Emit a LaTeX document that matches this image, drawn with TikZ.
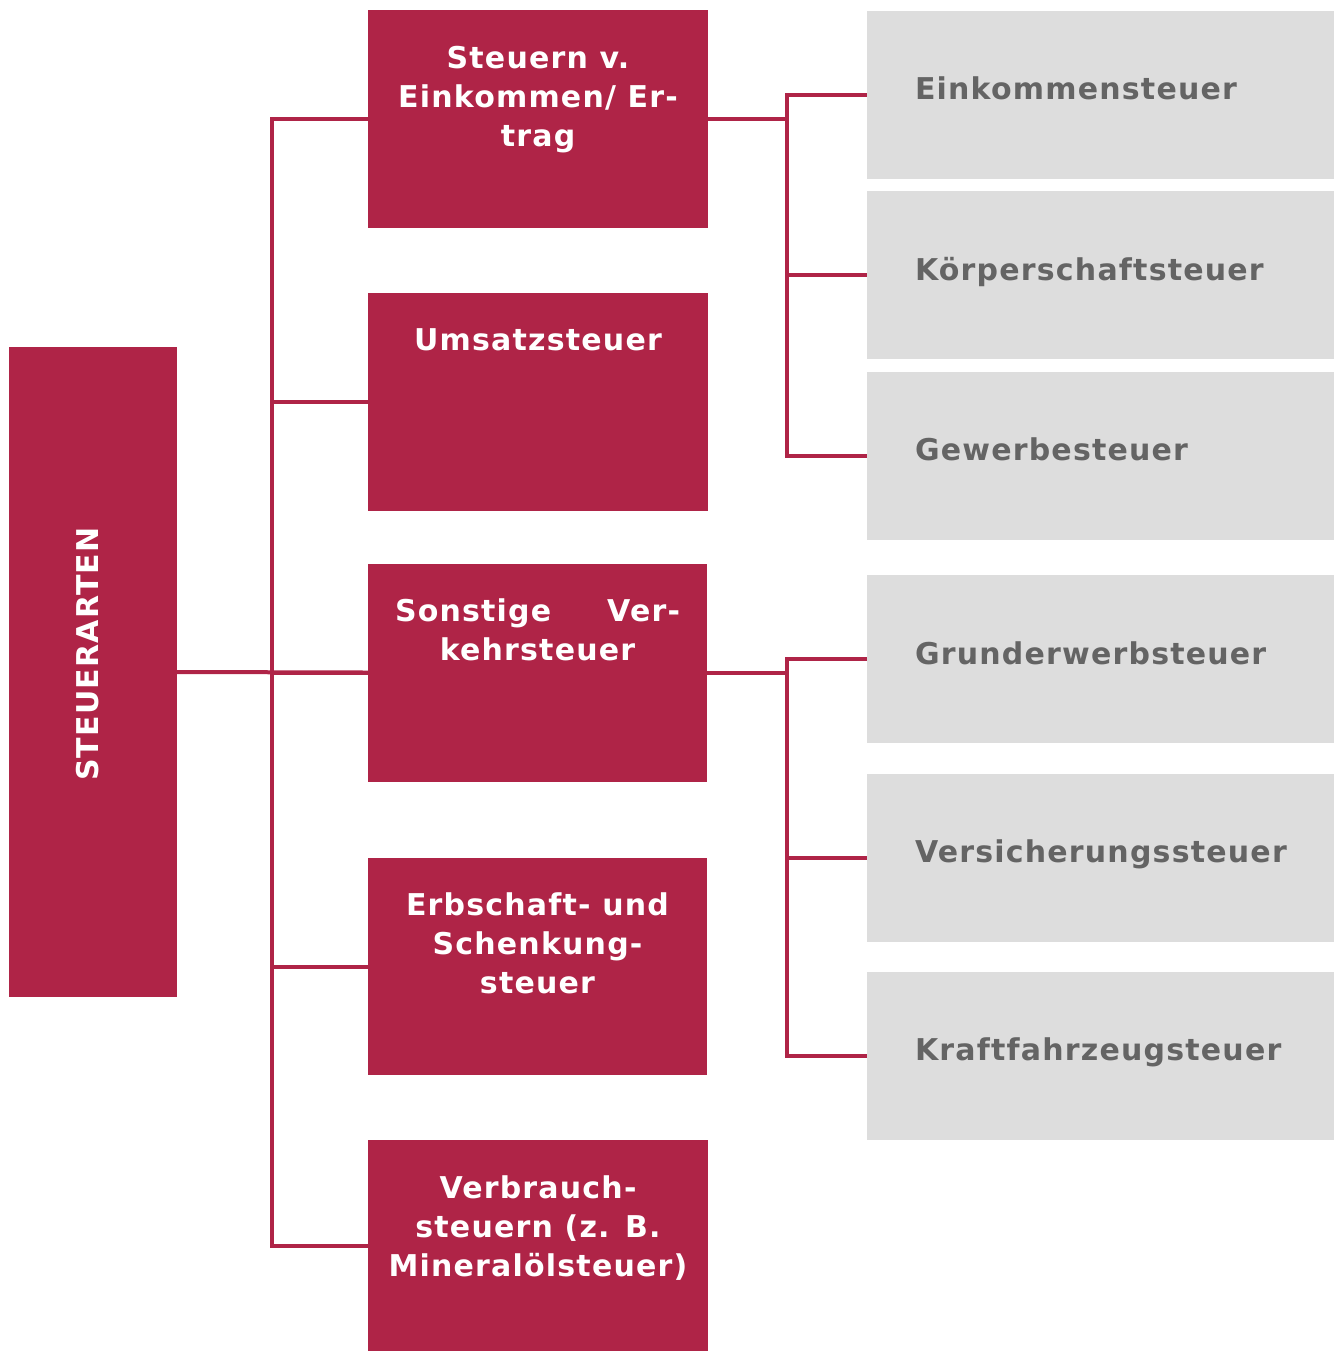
\documentclass[tikz,border=0pt]{standalone}
\usepackage{fontspec}
\newfontfamily\taxfont{DejaVu Sans}[LetterSpace=4]
\usetikzlibrary{backgrounds}
\definecolor{taxred}{HTML}{AF2447}
\definecolor{taxgrey}{HTML}{DDDDDD}
\definecolor{taxtext}{HTML}{646464}

\begin{document}
\begin{tikzpicture}[
    x=0.5pt, y=-0.5pt,
    redbox/.style={rectangle, fill=taxred, inner sep=0pt, minimum width=170pt, minimum height=109pt},
    greybox/.style={rectangle, fill=taxgrey, inner sep=0pt, minimum width=233.5pt, minimum height=84pt},
    boxtext/.style={font=\taxfont\bfseries\fontsize{15}{19.5}\selectfont, inner sep=0pt},
    redtext/.style={boxtext, text=white, align=center, anchor=north},
    greytext/.style={boxtext, text=taxtext, anchor=base west},
    conn/.style={draw=taxred, line width=2pt, line cap=rect}
  ]
  \useasboundingbox (0,0) rectangle (1340,1351);

  % root
  \node[redbox, minimum width=84pt, minimum height=325pt] (root) at (93,672) {};
  \node[boxtext, text=white, rotate=90] (rootlabel) at (87.5,654) {STEUERARTEN};

  % middle column
  \node[redbox] (m1) at (538,119) {};
  \node[redbox] (m2) at (538,402) {};
  \node[redbox, minimum width=169.5pt] (m3) at (537.5,672.5) {};
  \node[redbox, minimum width=169.5pt, minimum height=108.5pt] (m4) at (537.5,966.5) {};
  \node[redbox, minimum height=105.5pt] (m5) at (538,1245.5) {};

  \node[redtext] (m1t) at ([yshift=-17pt]m1.north) {\rule{0pt}{12pt}Steuern v.\\Einkommen/ Er-\\trag};
  \node[redtext] (m2t) at ([yshift=-16.5pt]m2.north) {\rule{0pt}{12pt}Umsatzsteuer};
  \node[redtext] (m3t) at ([yshift=-17pt]m3.north) {\rule{0pt}{12pt}\hbox to 142.5pt{Sonstige\hfill Ver-}\\kehrsteuer};
  \node[redtext] (m4t) at ([yshift=-16.5pt]m4.north) {\rule{0pt}{12pt}Erbschaft- und\\Schenkung-\\steuer};
  \node[redtext] (m5t) at ([yshift=-17pt]m5.north) {\rule{0pt}{12pt}Verbrauch-\\steuern (z. B.\\Mineralölsteuer)};

  % right column
  \node[greybox] (g1) at (1100.5,95) {};
  \node[greybox] (g2) at (1100.5,275) {};
  \node[greybox] (g3) at (1100.5,456) {};
  \node[greybox] (g4) at (1100.5,659) {};
  \node[greybox] (g5) at (1100.5,858) {};
  \node[greybox] (g6) at (1100.5,1056) {};

  \node[greytext] (g1t) at ([xshift=24pt, yshift=-44.5pt]g1.north west) {Einkommensteuer};
  \node[greytext] (g2t) at ([xshift=24pt, yshift=-45pt]g2.north west) {Körperschaftsteuer};
  \node[greytext] (g3t) at ([xshift=24pt, yshift=-44.5pt]g3.north west) {Gewerbesteuer};
  \node[greytext] (g4t) at ([xshift=24pt, yshift=-45pt]g4.north west) {Grunderwerbsteuer};
  \node[greytext] (g5t) at ([xshift=24pt, yshift=-44.5pt]g5.north west) {Versicherungssteuer};
  \node[greytext] (g6t) at ([xshift=24pt, yshift=-44.5pt]g6.north west) {Kraftfahrzeugsteuer};

  % connectors
  \coordinate (trunk) at (272,0);
  \coordinate (b1) at (787,0);
  \begin{scope}[on background layer]
    \draw[conn] (root.east) -- (m3.west);
    \draw[conn] (trunk |- m1.west) -- (trunk |- m5.west);
    \foreach \i in {1,...,5}
      \draw[conn] (trunk |- m\i.west) -- (m\i.west);
    \draw[conn] (m1.east) -- (b1 |- m1.east);
    \draw[conn] (m3.east) -- (b1 |- m3.east);
    \draw[conn] (b1 |- g1.west) -- (b1 |- g3.west);
    \draw[conn] (b1 |- g4.west) -- (b1 |- g6.west);
    \foreach \i in {1,...,6}
      \draw[conn] (b1 |- g\i.west) -- (g\i.west);
  \end{scope}
\end{tikzpicture}
\end{document}
